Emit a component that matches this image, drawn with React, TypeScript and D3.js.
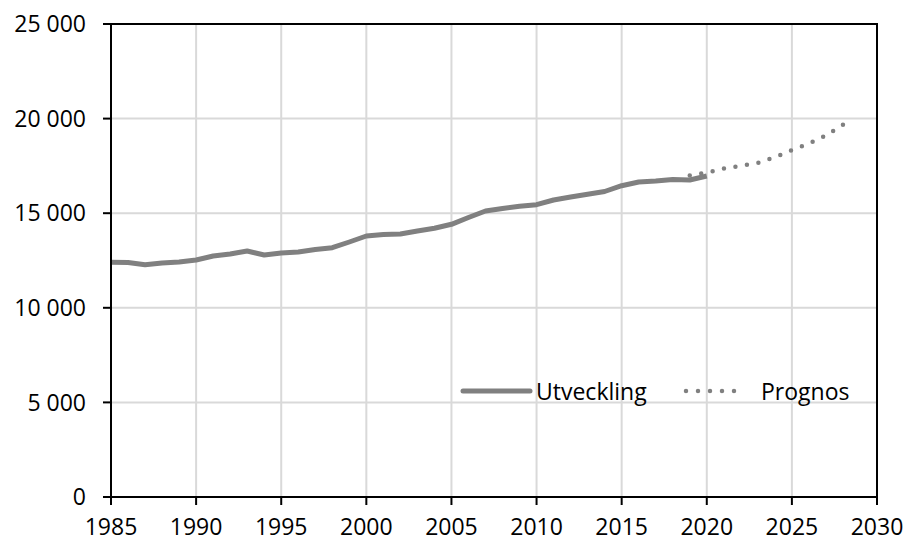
import * as d3 from 'd3'

const actualYears = d3.range(1985, 2021)
const actualValues = [
  12405, 12395, 12278, 12368, 12420, 12526, 12738, 12844, 13002, 12791,
  12896, 12949, 13081, 13176, 13478, 13795, 13874, 13900, 14059, 14202,
  14413, 14772, 15116, 15248, 15365, 15449, 15698, 15856, 15999, 16147,
  16454, 16649, 16702, 16781, 16755, 16966,
]
const forecastYears = d3.range(2019, 2029)
const forecastValues = [16990, 17146, 17357, 17510, 17653, 17955, 18340, 18679, 19107, 19680]

const xTicks = d3.range(1985, 2031, 5)
const yTicks = d3.range(0, 25001, 5000)

const W = 907
const H = 542
const margin = { top: 24, right: 30, bottom: 45, left: 111 }
const font = '"Open Sans", sans-serif'
const fs = 23

export default function App() {
  const x = d3.scaleLinear().domain([1985, 2030]).range([margin.left, W - margin.right])
  const y = d3.scaleLinear().domain([0, 25000]).range([H - margin.bottom, margin.top])
  const fmt = (v: number) => d3.format(',')(v).replace(/,/g, ' ')

  const line = d3.line<[number, number]>().x((d) => x(d[0])).y((d) => y(d[1]))
  const actual = line(actualYears.map((yr, i) => [yr, actualValues[i]]) as [number, number][])
  const fPts = forecastYears.map((yr, i) => [x(yr), y(forecastValues[i])])
  const forecast = line(forecastYears.map((yr, i) => [yr, forecastValues[i]]) as [number, number][])

  // dot spacing so that a dot sits at both ends of the forecast
  let fLen = 0
  for (let i = 1; i < fPts.length; i++) {
    fLen += Math.hypot(fPts[i][0] - fPts[i - 1][0], fPts[i][1] - fPts[i - 1][1])
  }
  const gap = fLen / Math.round(fLen / 12)

  const x0 = x(1985)
  const x1 = x(2030)
  const y0 = y(0)
  const y1 = y(25000)

  return (
    <svg width={W} height={H} style={{ position: 'absolute', left: 0, top: 0 }}>
      <rect width={W} height={H} fill="#fff" />
      {/* grid */}
      {xTicks.slice(1, -1).map((t) => (
        <line key={'gx' + t} x1={x(t)} x2={x(t)} y1={y1} y2={y0} stroke="#d9d9d9" strokeWidth={2} />
      ))}
      {yTicks.slice(1, -1).map((t) => (
        <line key={'gy' + t} x1={x0} x2={x1} y1={y(t)} y2={y(t)} stroke="#d9d9d9" strokeWidth={2} />
      ))}

      {/* legend */}
      <line x1={463} x2={530} y1={391} y2={391} stroke="#808080" strokeWidth={5} strokeLinecap="round" />
      <text x={536} y={400} fontFamily={font} fontSize={fs} fill="#000">Utveckling</text>
      <line x1={686} x2={746} y1={391} y2={391} stroke="#808080" strokeWidth={4.5}
        strokeLinecap="round" strokeDasharray="0 12" />
      <text x={761} y={400} fontFamily={font} fontSize={fs} fill="#000">Prognos</text>

      {/* series */}
      <path d={forecast ?? ''} fill="none" stroke="#808080" strokeWidth={4.5}
        strokeLinecap="round" strokeDasharray={`0 ${gap}`} />
      <path d={actual ?? ''} fill="none" stroke="#808080" strokeWidth={5} strokeLinejoin="round" />

      {/* frame */}
      <rect x={x0} y={y1} width={x1 - x0} height={y0 - y1} fill="none" stroke="#000" strokeWidth={2} />

      {/* y axis */}
      {yTicks.map((t) => (
        <g key={'yt' + t}>
          <line x1={x0 - 8} x2={x0} y1={y(t)} y2={y(t)} stroke="#000" strokeWidth={2} />
          <text x={86} y={y(t)} dy="0.36em" textAnchor="end" fontFamily={font} fontSize={fs} fill="#000">
            {fmt(t)}
          </text>
        </g>
      ))}

      {/* x axis */}
      {xTicks.map((t) => (
        <g key={'xt' + t}>
          <line x1={x(t)} x2={x(t)} y1={y0} y2={y0 + 8} stroke="#000" strokeWidth={2} />
          <text x={x(t)} y={535} textAnchor="middle" fontFamily={font} fontSize={fs} fill="#000">
            {t}
          </text>
        </g>
      ))}
    </svg>
  )
}
